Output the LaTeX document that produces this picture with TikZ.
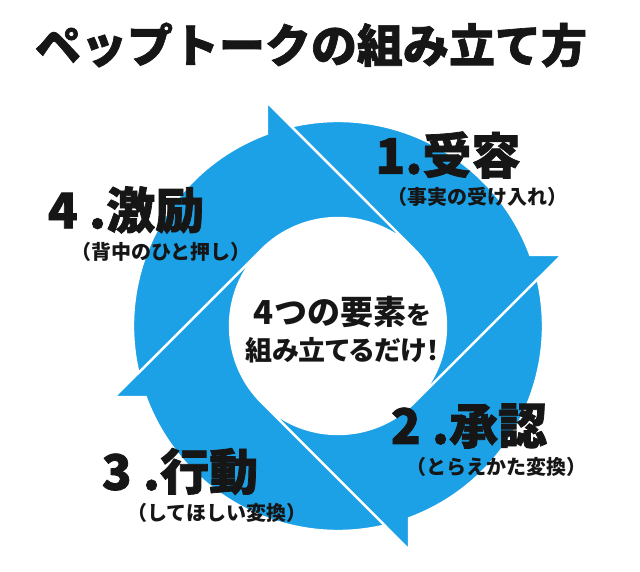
\documentclass[tikz,border=0pt]{standalone}
\usepackage{fontspec}
\setmainfont{Noto Sans CJK JP}
\newfontfamily\heavy{Noto Sans CJK JP}[UprightFeatures={FakeBold=0}, BoldFeatures={FakeBold=1.5}]
\usetikzlibrary{positioning}
\def\outerradius{205pt}
\def\innerradius{108pt}
\def\tipradius{235pt}
\definecolor{sky}{HTML}{1CA1E6}
\definecolor{ink}{HTML}{161616}

\begin{document}
\begin{tikzpicture}[x=1pt, y=1pt, node distance=8pt]
    \tikzstyle{segment}=[fill=sky, draw=white, line width=2.4pt];
    \tikzstyle{stage}=[inner sep=0pt, text=ink, font=\fontsize{49}{49}\selectfont\heavy\bfseries];
    \tikzstyle{note}=[inner sep=0pt, text=ink, font=\fontsize{20}{20}\selectfont\bfseries];
    \tikzstyle{core}=[inner sep=0pt, text=ink, font=\bfseries];
    \useasboundingbox (-338,-246) rectangle (302,326);

    % Draw the ring
    \foreach \a in {0,-90,-180,-270}
        \draw[segment] ({\a+103.2}:\outerradius)
            arc[start angle=\a+103.2, end angle=\a+20.3, radius=\outerradius]
            -- ({\a+17.6}:\tipradius) -- ({\a-45}:\innerradius)
            arc[start angle=\a-45, end angle=\a+45, radius=\innerradius] -- cycle;

    % Title
    \node[inner sep=0pt, text=ink, font=\fontsize{46}{46}\selectfont\heavy\bfseries] (title) at (-27,281) {ペップトークの組み立て方};

    % Label the stages
    \node[stage] (accept) at (110,171) {1.受容};
    \node[note, below=of accept, xshift=29pt] (accept-note) {（事実の受け入れ）};
    \node[stage] (approve) at (131,-100) {2 .承認};
    \node[note, below=of approve, xshift=28pt] (approve-note) {（とらえかた変換）};
    \node[stage] (action) at (-158,-145.5) {3 .行動};
    \node[note, below=of action, xshift=37pt] (action-note) {（してほしい変換）};
    \node[stage] (cheer) at (-212,116) {4 .激励};
    \node[note, below=of cheer, xshift=35pt] (cheer-note) {（背中のひと押し）};

    % Centre text
    \node[core] (core-top) at (4.5,14) {{\fontsize{33}{33}\selectfont 4つの要素}{\fontsize{25}{25}\selectfont を}};
    \node[core, below=9pt of core-top] (core-bottom) {\fontsize{27}{27}\selectfont\addfontfeatures{RawFeature=+palt}組み立てるだけ！};
\end{tikzpicture}
\end{document}
